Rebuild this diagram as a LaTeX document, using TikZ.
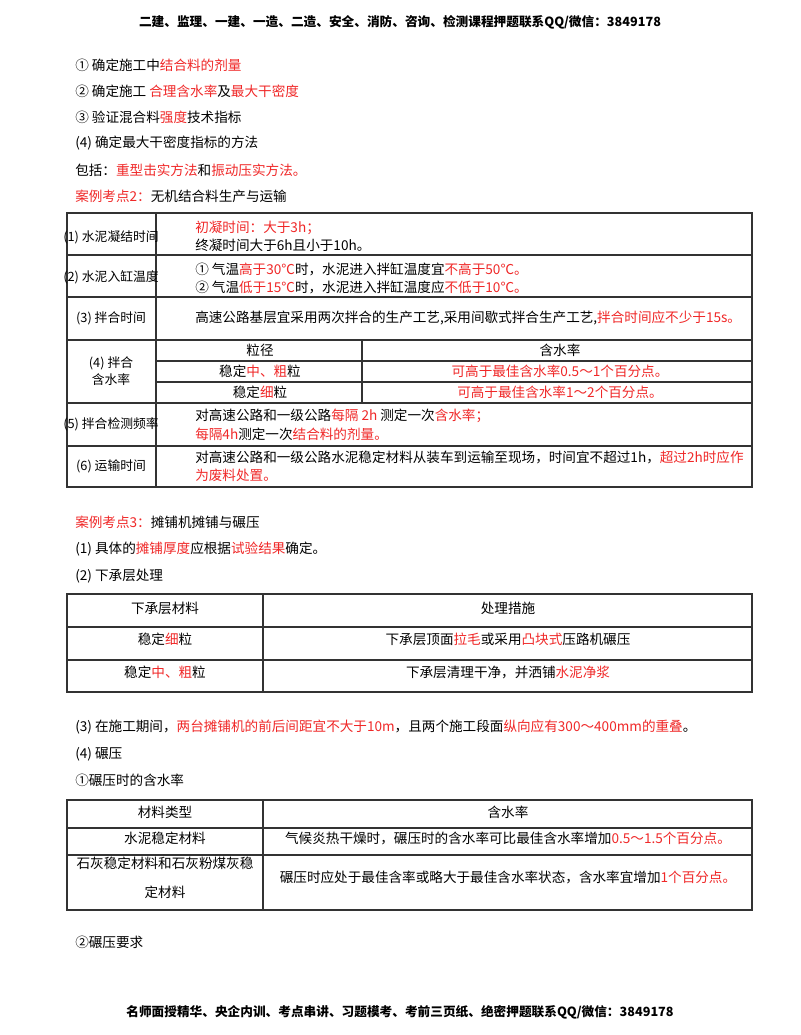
\documentclass[tikz,border=0pt]{standalone}
\usepackage{fontspec}
\setmainfont{Noto Sans CJK SC}
\definecolor{myred}{RGB}{240,40,40}
\newcommand\rd[1]{\textcolor{myred}{#1}}
\begin{document}
\begin{tikzpicture}[x=0.75pt,y=-0.75pt,
  t/.style={anchor=west,inner sep=0,font=\fontsize{10.2}{12.5}\selectfont},
  c/.style={anchor=center,inner sep=0,font=\fontsize{10.2}{12.5}\selectfont,align=center},
  s/.style={anchor=center,inner sep=0,font=\fontsize{9.6}{12.5}\selectfont,align=center},
  grid/.style={line width=0.8pt,black!80}]
\useasboundingbox[fill=white] (0,0) rectangle (800,1035);
\node[c,font=\fontsize{9.5}{12}\selectfont\bfseries] (hd) at (400,22) {二建、监理、一建、一造、二造、安全、消防、咨询、检测课程押题联系QQ/微信：3849178};
\node[t] (l1) at (75,65) {①\ 确定施工中\rd{结合料的剂量}};
\node[t] (l2) at (75,91) {②\ 确定施工 \rd{合理含水率}及\rd{最大干密度}};
\node[t] (l3) at (75,117) {③\ 验证混合料\rd{强度}技术指标};
\node[t] (l4) at (75,143) {(4) 确定最大干密度指标的方法};
\node[t] (l5) at (75,170) {包括：\rd{重型击实方法}和\rd{振动压实方法。}};
\node[t] (l6) at (75,196) {\rd{案例考点2：}无机结合料生产与运输};
% table 1
\draw[grid] (67,213) rectangle (752,487);
\foreach \y in {255,297,340,403,446} \draw[grid] (67,\y) -- (752,\y);
\draw[grid] (156,213) -- (156,487);
\draw[grid] (156,361) -- (752,361);
\draw[grid] (156,382) -- (752,382);
\draw[grid] (362,340) -- (362,403);
\node[s] (a1) at (111,237) {(1) 水泥凝结时间};
\node[s] (a2) at (111,277) {(2) 水泥入缸温度};
\node[s] (a3) at (111,318) {(3) 拌合时间};
\node[s] (a4) at (111,371) {(4) 拌合\\含水率};
\node[s] (a5) at (111,424) {(5) 拌合检测频率};
\node[s] (a6) at (111,466) {(6) 运输时间};
\node[t] (b1a) at (195,228) {\rd{初凝时间：大于3h；}};
\node[t] (b1b) at (195,245) {终凝时间大于6h且小于10h。};
\node[t] (b2a) at (195,269) {①\ 气温\rd{高于30℃}时，水泥进入拌缸温度宜\rd{不高于50℃。}};
\node[t] (b2b) at (195,287) {②\ 气温\rd{低于15℃}时，水泥进入拌缸温度应\rd{不低于10℃。}};
\node[t] (b3) at (195,318) {高速公路基层宜采用两次拌合的生产工艺,采用间歇式拌合生产工艺,\rd{拌合时间应不少于15s。}};
\node[c] (b4a) at (260,350) {粒径};
\node[c] (b4b) at (560,350) {含水率};
\node[c] (b4c) at (260,371) {稳定\rd{中、粗}粒};
\node[c] (b4d) at (560,371) {\rd{可高于最佳含水率0.5～1个百分点。}};
\node[c] (b4e) at (260,392) {稳定\rd{细}粒};
\node[c] (b4f) at (560,392) {\rd{可高于最佳含水率1～2个百分点。}};
\node[t] (b5a) at (195,416) {对高速公路和一级公路\rd{每隔 2h} 测定一次\rd{含水率；}};
\node[t] (b5b) at (195,434) {\rd{每隔4h}测定一次\rd{结合料的剂量。}};
\node[t] (b6a) at (195,457) {对高速公路和一级公路水泥稳定材料从装车到运输至现场，时间宜不超过1h，\rd{超过2h时应作}};
\node[t] (b6b) at (195,475) {\rd{为废料处置。}};
% section 3
\node[t] (m1) at (75,522) {\rd{案例考点3：}摊铺机摊铺与碾压};
\node[t] (m2) at (75,549) {(1) 具体的\rd{摊铺厚度}应根据\rd{试验结果}确定。};
\node[t] (m3) at (75,576) {(2) 下承层处理};
\draw[grid] (67,594) rectangle (752,692);
\draw[grid] (67,627) -- (752,627);
\draw[grid] (67,660) -- (752,660);
\draw[grid] (263,594) -- (263,692);
\node[c] (p1) at (165,608) {下承层材料};
\node[c] (p2) at (508,608) {处理措施};
\node[c] (p3) at (165,639) {稳定\rd{细}粒};
\node[c] (p4) at (508,639) {下承层顶面\rd{拉毛}或采用\rd{凸块式}压路机碾压};
\node[c] (p5) at (165,672) {稳定\rd{中、粗}粒};
\node[c] (p6) at (508,672) {下承层清理干净，并洒铺\rd{水泥净浆}};
\node[t] (m4) at (75,727) {(3) 在施工期间，\rd{两台摊铺机的前后间距宜不大于10m}，且两个施工段面\rd{纵向应有300～400mm的重叠}。};
\node[t] (m5) at (75,754) {(4) 碾压};
\node[t] (m6) at (75,780) {①碾压时的含水率};
\draw[grid] (67,800) rectangle (752,910);
\draw[grid] (67,828) -- (752,828);
\draw[grid] (67,855) -- (752,855);
\draw[grid] (263,800) -- (263,910);
\node[c] (q1) at (165,812) {材料类型};
\node[c] (q2) at (508,812) {含水率};
\node[c] (q3) at (165,838) {水泥稳定材料};
\node[c] (q4) at (508,838) {气候炎热干燥时，碾压时的含水率可比最佳含水率增加\rd{0.5～1.5个百分点。}};
\node[c,font=\fontsize{10.2}{22}\selectfont] (q5) at (165,878) {石灰稳定材料和石灰粉煤灰稳\\定材料};
\node[c] (q6) at (508,877) {碾压时应处于最佳含率或略大于最佳含水率状态，含水率宜增加\rd{1个百分点。}};
\node[t] (m7) at (75,942) {②碾压要求};
\node[c,font=\fontsize{9.5}{12}\selectfont\bfseries] (ft) at (400,1012) {名师面授精华、央企内训、考点串讲、习题模考、考前三页纸、绝密押题联系QQ/微信：3849178};
\end{tikzpicture}
\end{document}
